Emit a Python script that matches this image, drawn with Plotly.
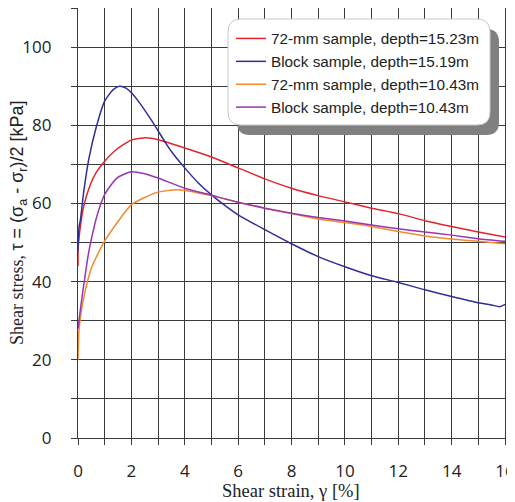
import plotly.graph_objects as go

# ---------------- data ----------------
red_name = "72-mm sample, depth=15.23m"
red_x = [0, 0.01, 0.09, 0.21, 0.46, 0.69, 1.0, 1.44, 2.0, 2.56, 3.0, 4.0, 5.0, 6.0, 7.0, 8.0,
         9.0, 10.0, 11.0, 12.0, 13.0, 14.0, 15.0, 16.0]
red_y = [44, 49, 54.1, 59.2, 64.8, 68.0, 70.8, 73.8, 76.2, 76.8, 76.3, 74.2, 71.9, 69.1, 66.3, 63.9,
         62.0, 60.4, 58.8, 57.4, 55.6, 54.1, 52.7, 51.4]

blue_name = "Block sample, depth=15.19m"
blue_x = [0, 0.04, 0.09, 0.21, 0.4, 0.69, 1.0, 1.3, 1.56, 1.8, 2.0, 2.3, 2.75, 3.0, 3.31, 3.6,
          4.0, 4.5, 5.0, 5.5, 6.0, 7.0, 8.0, 9.0, 10.0, 11.0, 12.0, 13.0, 14.0, 15.0, 15.5, 15.8, 16.0]
blue_y = [48, 54, 55.8, 62.7, 71.2, 79.7, 86.2, 89.0, 90.0, 89.5, 88.3, 85.8, 81.3, 78.6, 75.2, 72.4,
          69.1, 65.3, 62.2, 59.5, 57.1, 53.3, 49.7, 46.4, 43.8, 41.5, 39.8, 37.9, 36.2, 34.6, 34.0, 33.6, 34.2]

orange_name = "72-mm sample, depth=10.43m"
orange_x = [0, 0.03, 0.11, 0.28, 0.52, 1.0, 1.46, 2.0, 2.46, 3.0, 3.69, 4.0, 5.0, 6.0, 7.0,
            8.0, 9.0, 10.0, 11.0, 12.0, 13.0, 14.0, 15.0, 16.0]
orange_y = [20, 26.8, 31.9, 37.9, 43.8, 50.4, 55.0, 59.7, 61.4, 62.9, 63.5, 63.3, 62.0, 60.3, 58.8,
            57.4, 56.0, 55.1, 54.1, 52.8, 51.7, 50.9, 50.3, 49.7]

purple_name = "Block sample, depth=10.43m"
purple_x = [0, 0.11, 0.28, 0.4, 0.52, 0.71, 1.0, 1.46, 2.0, 2.5, 3.0, 4.0, 5.0, 6.0, 7.0,
            8.0, 9.0, 10.0, 11.0, 12.0, 13.0, 14.0, 15.0, 16.0]
purple_y = [28, 34.0, 42.2, 47.5, 51.5, 56.8, 62.3, 66.5, 68.1, 67.6, 66.5, 63.9, 62.1, 60.3, 58.8,
            57.5, 56.4, 55.5, 54.5, 53.5, 52.7, 51.9, 51.0, 50.3]

x_tickvals = [0, 2, 4, 6, 8, 10, 12, 14, 16]
y_tickvals = [0, 20, 40, 60, 80, 100]

x_title = "Shear strain, γ [%]"
y_title = ("Shear stress, <span style='font-family:Liberation Sans, Arial, sans-serif'>"
           "τ = (σ<sub>a</sub> - σ<sub>r</sub>)/2 [kPa]</span>")

# ---------------- styling ----------------
# the page body has an 8px margin, so the figure is sized/offset to place the
# plot area at page pixels left=78, right=505, top=8, bottom=438
OFF = 8
W, H = 515 - OFF, 502 - OFF
PL, PR, PT, PB = 78, 505, 8, 438
ML, MR, MT, MB = PL - OFF, W - (PR - OFF), PT - OFF, H - (PB - OFF)

SANS = "Liberation Sans, Arial, sans-serif"
TICKFONT = "Open Sans, sans-serif"
SERIF = "Liberation Serif, Times New Roman, serif"
GRID = "#3a3a3a"

series = [
    (red_name, red_x, red_y, "#e0262b"),
    (blue_name, blue_x, blue_y, "#2e2e96"),
    (orange_name, orange_x, orange_y, "#f28a2e"),
    (purple_name, purple_x, purple_y, "#9b34b4"),
]

fig = go.Figure()
for name, xs, ys, col in series:
    fig.add_trace(go.Scatter(x=xs, y=ys, mode="lines", name=name,
                             line=dict(color=col, width=1.5, shape="spline", smoothing=0.6)))

# page pixel -> paper
def px(x): return (x - PL) / (PR - PL)
def py(y): return (PB - y) / (PB - PT)

def rounded_rect(x0, y0, x1, y1, r):
    pts = [
        f"M {px(x0 + r)} {py(y0)}",
        f"L {px(x1 - r)} {py(y0)}",
        f"Q {px(x1)} {py(y0)} {px(x1)} {py(y0 + r)}",
        f"L {px(x1)} {py(y1 - r)}",
        f"Q {px(x1)} {py(y1)} {px(x1 - r)} {py(y1)}",
        f"L {px(x0 + r)} {py(y1)}",
        f"Q {px(x0)} {py(y1)} {px(x0)} {py(y1 - r)}",
        f"L {px(x0)} {py(y0 + r)}",
        f"Q {px(x0)} {py(y0)} {px(x0 + r)} {py(y0)}",
        "Z",
    ]
    return " ".join(pts)

bx0, by0, bx1, by1 = 228, 19, 490, 125
shapes = [
    dict(type="path", xref="paper", yref="paper", path=rounded_rect(bx0 + 9, by0 + 10, bx1 + 9, by1 + 10, 13),
         fillcolor="#808080", line=dict(width=0), layer="above"),
    dict(type="path", xref="paper", yref="paper", path=rounded_rect(bx0, by0, bx1, by1, 13),
         fillcolor="white", line=dict(color="#c8c8c8", width=1), layer="above"),
]

annotations = [
    dict(text=x_title, xref="paper", yref="paper", x=px(291), y=py(491),
         xanchor="center", yanchor="middle", showarrow=False,
         font=dict(family=SERIF, size=18.5, color="#222")),
    dict(text=y_title, xref="paper", yref="paper", x=px(18), y=py(223), textangle=-90,
         xanchor="center", yanchor="middle", showarrow=False,
         font=dict(family=SERIF, size=18, color="#222")),
]

axis_common = dict(
    showline=True, linecolor=GRID, linewidth=1.2, mirror=True,
    showgrid=True, gridcolor=GRID, gridwidth=1,
    ticks="outside", ticklen=6, tickcolor=GRID, tickwidth=1.2,
    zeroline=False, automargin=False, ticklabeloverflow="allow",
    tickfont=dict(family=TICKFONT, size=17, color="#222"),
)

fig.update_layout(
    width=W, height=H,
    margin=dict(l=ML, r=MR, t=MT, b=MB),
    paper_bgcolor="white", plot_bgcolor="white",
    shapes=shapes,
    annotations=annotations,
    showlegend=True,
    legend=dict(x=px(231), y=py(22), xanchor="left", yanchor="top",
                bgcolor="rgba(0,0,0,0)", borderwidth=0,
                font=dict(family=SANS, size=15.3, color="#222"),
                traceorder="normal"),
    xaxis=dict(range=[0, 16], tickvals=x_tickvals, ticktext=[str(v) for v in x_tickvals],
               minor=dict(dtick=1, showgrid=True, gridcolor=GRID, gridwidth=1,
                          ticks="outside", ticklen=6, tickcolor=GRID, tickwidth=1.2),
               ticklabelstandoff=11,
               **axis_common),
    yaxis=dict(range=[0, 110], tickvals=y_tickvals, ticktext=[str(v) for v in y_tickvals],
               minor=dict(dtick=10, showgrid=True, gridcolor=GRID, gridwidth=1,
                          ticks="outside", ticklen=6, tickcolor=GRID, tickwidth=1.2),
               ticklabelstandoff=16,
               **axis_common),
)

fig.write_html("out.html")
